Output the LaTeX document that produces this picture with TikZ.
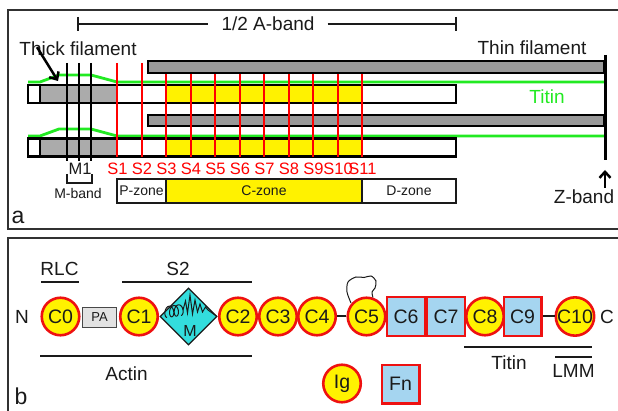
\documentclass[tikz,border=0pt]{standalone}
\usepackage{fontspec}
\setmainfont{Liberation Sans}
\usetikzlibrary{arrows.meta,shapes.geometric}
\definecolor{thingray}{HTML}{999999}
\definecolor{thickgray}{HTML}{ABABAB}
\definecolor{titgreen}{HTML}{22EA22}
\definecolor{redl}{HTML}{EE1111}
\definecolor{lblue}{HTML}{A5D5F0}
\definecolor{cyand}{HTML}{33DDDD}
\definecolor{pagray}{HTML}{E2E2E2}
\definecolor{ink}{HTML}{1A1A1A}
\begin{document}
\begin{tikzpicture}[x=1pt,y=-1pt,
  txt/.style={inner sep=0, font=\fontsize{19}{22}\selectfont, text=ink},
  smalltxt/.style={inner sep=0, font=\fontsize{14}{16}\selectfont, text=ink},
  slbl/.style={inner sep=0, font=\fontsize{16.5}{18}\selectfont, text=red},
  frame/.style={draw=ink!90, line width=2},
  bar/.style={draw=ink, line width=2.5},
  fil/.style={draw=black, line width=2.6},
  redline/.style={draw=red, line width=2},
  mline/.style={draw=black, line width=2.5},
  titinline/.style={draw=titgreen, line width=2.8},
  zonebox/.style={draw=ink, line width=1.3, inner sep=0, minimum height=24, font=\fontsize{14}{16}\selectfont, text=ink},
  circ/.style={circle, draw=redl, fill=yellow, line width=2.6, minimum size=37.5, inner sep=0, font=\fontsize{19.5}{22}\selectfont, text=ink},
  sqbox/.style={rectangle, draw=redl, fill=lblue, line width=2.2, minimum width=37.8, minimum height=38.8, inner sep=0, font=\fontsize{19.5}{22}\selectfont, text=ink},
  arr/.style={draw=black, line width=2.5, -{Straight Barb[length=6pt,width=11pt,line width=2.5pt]}},
  link/.style={draw=ink, line width=2}
]
\path[use as bounding box] (0,0) rectangle (618,411);
\clip (0,0) rectangle (618,411);
\fill[white] (0,0) rectangle (618,411);

% ================= panel a =================
\draw[frame] (8,10) rectangle (650,229);

% 1/2 A-band bar
\node[txt] (ab) at (268,24) {1/2 A-band};
\coordinate (abL) at (78,24);
\coordinate (abR) at (456,24);
\draw[bar] (abL) -- ([xshift=-13pt]ab.west);
\draw[bar] ([xshift=13pt]ab.east) -- (abR);
\draw[bar] (78,17) -- (78,31);
\draw[bar] (456,17) -- (456,31);

% thin filaments
\draw[fil, fill=thingray] (148,61) rectangle (604,73);
\draw[fil, fill=thingray] (148,115) rectangle (604,126);

% titin lines
\draw[titinline] (28,82) -- (40,82) -- (59,75) -- (91,75) -- (117,82) -- (605,82);
\draw[titinline] (28,136) -- (40,136) -- (59,129) -- (91,129) -- (117,136) -- (605,136);

% thick filaments
\foreach \yy in {0,53.5}{
  \fill[white] (28,{85+\yy}) rectangle (456,{103+\yy});
  \fill[thickgray] (40,{85+\yy}) rectangle (116,{103+\yy});
  \fill[yellow] (166,{85+\yy}) rectangle (362,{103+\yy});
  \draw[fil] (28,{85+\yy}) rectangle (456,{103+\yy});
  \draw[fil] (40,{85+\yy}) -- (40,{103+\yy});
}

% Z line
\draw[black, line width=3] (605,55) -- (605,160);

% M lines
\foreach \xx in {67,79,91}{ \draw[mline] (\xx,63) -- (\xx,161); }

% red stripes
\draw[redline] (117,63) -- (117,157);
\draw[redline] (141.5,63) -- (141.5,157);
\foreach \i in {3,...,11}{ \draw[redline] ({117+24.5*(\i-1)},74) -- ({117+24.5*(\i-1)},157); }

% S labels
\foreach \i in {1,...,11}{ \node[slbl] (s\i) at ({117.5+24.5*(\i-1)},168.5) {S\i}; }

% M1 and M-band
\node[inner sep=0, font=\fontsize{16.5}{18}\selectfont, text=ink] (m1) at (80,168.5) {M1};
\draw[ink, line width=1.3] (67,174) -- (67,183) -- (92,183) -- (92,174);
\node[smalltxt] (mband) at (78,193) {M-band};

% zones
\node[zonebox, fill=white, minimum width=49] (pz) at (141.5,191) {P-zone};
\node[zonebox, fill=yellow, minimum width=196] (cz) at (264,191) {C-zone};
\node[zonebox, fill=white, minimum width=94] (dz) at (409,191) {D-zone};

% labels
\node[txt] (thick) at (78,49) {Thick filament};
\coordinate (thickTip) at (58,81);
\draw[arr] ([xshift=-41pt,yshift=9pt]thick.south) -- (thickTip);
\node[txt] (thin) at (532,48) {Thin filament};
\node[txt, text=titgreen] (titinA) at (547,97) {Titin};
\node[txt] (zband) at (584,197) {Z-band};
\coordinate (zTip) at (605,170);
\draw[arr] (zband.north -| zTip) ++(0,-2) -- (zTip);
\node[inner sep=0, font=\fontsize{23}{26}\selectfont, text=ink] (la) at (18,217) {a};

% ================= panel b =================
\draw[frame] (8,238) rectangle (650,440);

\node[txt] (N) at (22,316.5) {N};
\node[circ] (c0) at (60.5,316.5) {C0};
\node[rectangle, draw=ink!80, line width=1.2, fill=pagray, minimum width=34, minimum height=20, inner sep=0, font=\fontsize{13}{15}\selectfont, text=ink] (pa) at (99.5,317.5) {PA};
\node[circ] (c1) at (139,316.5) {C1};
\node[diamond, aspect=1, draw=ink, line width=1.2, fill=cyand, minimum width=57, minimum height=57, inner sep=0] (mdom) at (188.5,316.5) {};
\node[circ] (c2) at (238,316.5) {C2};
\node[circ] (c3) at (278,316.5) {C3};
\node[circ] (c4) at (317,316.5) {C4};
\node[circ] (c5) at (366.5,316.5) {C5};
\node[sqbox] (c6) at (406,316.5) {C6};
\node[sqbox] (c7) at (446,316.5) {C7};
\node[circ] (c8) at (485,316.5) {C8};
\node[sqbox] (c9) at (522.5,316.5) {C9};
\node[circ] (c10) at (575,316.5) {C10};
\node[txt] (C) at (607,316.5) {C};

% motif in diamond
\draw[ink, line width=1] plot[domain=0:1080, samples=90, smooth] ({167+\x/1080*14+3.2*cos(\x+90)}, {312+5.5*sin(\x+90)-\x/1080*2});
\draw[ink, line width=1] (183,310) -- (185.5,301) -- (187.5,313) -- (190,295) -- (192.5,314) -- (195,300) -- (197.5,312) -- (200,304) -- (202.5,312) -- (205.5,307) -- (208,310) -- (217,316.5);
\node[inner sep=0, font=\fontsize{16}{18}\selectfont, text=ink] (mtxt) at (190,331) {M};

% connectors
\draw[link] (c4) -- (c5);
\draw[link] (c9) -- (c10);

% loop above C5
\draw[ink, line width=1] plot[smooth] coordinates {(351,303) (347,292) (348,282) (356,277) (364,277.5) (371,276) (376,281) (375,288) (372,292) (373,297.5)};

% annotation bars
\node[txt] (rlc) at (59.5,269) {RLC};
\draw[bar] (41,282) -- (79,282);
\node[txt] (s2lab) at (178,269) {S2};
\draw[bar] (122,282) -- (252,282);
\draw[bar] (40,356) -- (252,356);
\node[txt] (actin) at (126.5,374) {Actin};
\draw[bar] (464,347) -- (592,347);
\node[txt] (titinB) at (509,363) {Titin};
\draw[bar] (555,357) -- (592,357);
\node[txt] (lmm) at (573.5,371) {LMM};

% legend
\node[circ] (ig) at (342,383.5) {Ig};
\node[sqbox] (fn) at (400.5,384) {Fn};

\node[inner sep=0, font=\fontsize{23}{26}\selectfont, text=ink] (lb) at (21,396) {b};
\end{tikzpicture}
\end{document}
